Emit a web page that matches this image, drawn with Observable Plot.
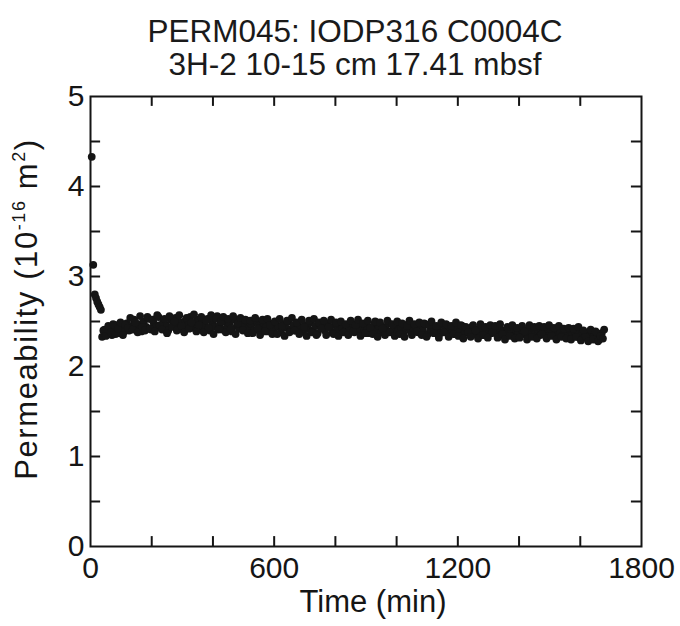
<!DOCTYPE html>
<html>
<head>
<meta charset="utf-8">
<script src="https://cdn.jsdelivr.net/npm/d3@7"></script>
<script src="https://cdn.jsdelivr.net/npm/@observablehq/plot@0.6"></script>
<style>
  body { margin: 0; background: #fff; font-family: "Liberation Sans", Arial, sans-serif; }
  #wrap { position: relative; width: 680px; height: 626px; }
  #title { position: absolute; left: 0; top: 15px; width: 710px; text-align: center; font-size: 31.5px; line-height: 33px; color: #1a1a1a; }
  #chart { position: absolute; left: 0; top: 0; }
</style>
</head>
<body>
<div id="wrap">
  <div id="chart"></div>
  <div id="title">PERM045: IODP316 C0004C<br>3H-2 10-15 cm 17.41 mbsf</div>
</div>
<script>
// Early transient points (time in min, permeability in 1e-16 m^2)
const earlyTime = [4, 9, 14, 18, 22, 26, 30, 34];
const earlyPerm = [4.33, 3.13, 2.80, 2.76, 2.72, 2.69, 2.66, 2.63];

// Steady-state points, series A
const time = [
  38,46,54,62,70,78,86,94,102,110,
  118,126,134,142,150,158,166,174,182,190,
  198,206,214,222,230,238,246,254,262,270,
  278,286,294,302,310,318,326,334,342,350,
  358,366,374,382,390,398,406,414,422,430,
  438,446,454,462,470,478,486,494,502,510,
  518,526,534,542,550,558,566,574,582,590,
  598,606,614,622,630,638,646,654,662,670,
  678,686,694,702,710,718,726,734,742,750,
  758,766,774,782,790,798,806,814,822,830,
  838,846,854,862,870,878,886,894,902,910,
  918,926,934,942,950,958,966,974,982,990,
  998,1006,1014,1022,1030,1038,1046,1054,1062,1070,
  1078,1086,1094,1102,1110,1118,1126,1134,1142,1150,
  1158,1166,1174,1182,1190,1198,1206,1214,1222,1230,
  1238,1246,1254,1262,1270,1278,1286,1294,1302,1310,
  1318,1326,1334,1342,1350,1358,1366,1374,1382,1390,
  1398,1406,1414,1422,1430,1438,1446,1454,1462,1470,
  1478,1486,1494,1502,1510,1518,1526,1534,1542,1550,
  1558,1566,1574,1582,1590,1598,1606,1614,1622,1630,
  1638,1646,1654,1662,1670,1678
];
const perm = [
  2.33,2.41,2.36,2.44,2.35,2.40,2.46,2.37,2.43,2.39,
  2.48,2.40,2.45,2.52,2.42,2.47,2.39,2.50,2.44,2.53,
  2.41,2.49,2.45,2.55,2.43,2.50,2.46,2.40,2.52,2.47,
  2.54,2.44,2.49,2.41,2.51,2.46,2.55,2.43,2.48,2.52,
  2.42,2.50,2.45,2.53,2.40,2.49,2.44,2.56,2.46,2.41,
  2.50,2.44,2.48,2.39,2.52,2.45,2.42,2.49,2.46,2.51,
  2.43,2.47,2.40,2.50,2.45,2.41,2.48,2.44,2.39,2.47,
  2.42,2.49,2.44,2.38,2.47,2.43,2.50,2.41,2.46,2.40,
  2.48,2.43,2.39,2.46,2.42,2.49,2.40,2.45,2.37,2.47,
  2.43,2.40,2.48,2.44,2.38,2.46,2.41,2.47,2.43,2.39,
  2.46,2.42,2.48,2.38,2.44,2.41,2.47,2.40,2.45,2.37,
  2.43,2.47,2.40,2.45,2.38,2.44,2.41,2.48,2.39,2.43,
  2.46,2.40,2.44,2.37,2.43,2.47,2.39,2.42,2.45,2.38,
  2.44,2.40,2.47,2.36,2.42,2.45,2.39,2.43,2.37,2.46,
  2.41,2.38,2.44,2.40,2.36,2.43,2.39,2.45,2.37,2.42,
  2.39,2.44,2.36,2.41,2.38,2.43,2.35,2.40,2.44,2.37,
  2.41,2.38,2.43,2.35,2.40,2.37,2.42,2.39,2.34,2.41,
  2.38,2.42,2.36,2.40,2.34,2.39,2.43,2.37,2.41,2.35,
  2.40,2.37,2.42,2.35,2.39,2.36,2.41,2.38,2.34,2.40,
  2.37,2.41,2.35,2.39,2.33,2.38,2.36,2.32,2.37,2.34,
  2.31,2.36,2.33,2.30,2.37,2.41
];

// Steady-state points, series B (interleaved readings)
const time2 = [
  42,50,58,66,74,82,90,98,106,114,
  122,130,138,146,154,162,170,178,186,194,
  202,210,218,226,234,242,250,258,266,274,
  282,290,298,306,314,322,330,338,346,354,
  362,370,378,386,394,402,410,418,426,434,
  442,450,458,466,474,482,490,498,506,514,
  522,530,538,546,554,562,570,578,586,594,
  602,610,618,626,634,642,650,658,666,674,
  682,690,698,706,714,722,730,738,746,754,
  762,770,778,786,794,802,810,818,826,834,
  842,850,858,866,874,882,890,898,906,914,
  922,930,938,946,954,962,970,978,986,994,
  1002,1010,1018,1026,1034,1042,1050,1058,1066,1074,
  1082,1090,1098,1106,1114,1122,1130,1138,1146,1154,
  1162,1170,1178,1186,1194,1202,1210,1218,1226,1234,
  1242,1250,1258,1266,1274,1282,1290,1298,1306,1314,
  1322,1330,1338,1346,1354,1362,1370,1378,1386,1394,
  1402,1410,1418,1426,1434,1442,1450,1458,1466,1474,
  1482,1490,1498,1506,1514,1522,1530,1538,1546,1554,
  1562,1570,1578,1586,1594,1602,1610,1618,1626,1634,
  1642,1650,1658,1666,1674
];
const perm2 = [
  2.40,2.34,2.45,2.38,2.47,2.36,2.42,2.49,2.35,2.46,
  2.43,2.54,2.41,2.49,2.38,2.56,2.44,2.40,2.55,2.42,
  2.52,2.39,2.57,2.46,2.41,2.53,2.37,2.56,2.44,2.50,
  2.40,2.57,2.45,2.38,2.54,2.42,2.49,2.58,2.39,2.46,
  2.55,2.38,2.51,2.43,2.57,2.36,2.53,2.41,2.50,2.55,
  2.38,2.53,2.42,2.56,2.36,2.48,2.54,2.40,2.52,2.37,
  2.51,2.37,2.54,2.42,2.35,2.52,2.39,2.53,2.46,2.36,
  2.50,2.36,2.53,2.45,2.34,2.51,2.38,2.54,2.40,2.49,
  2.36,2.52,2.44,2.34,2.51,2.38,2.53,2.35,2.49,2.42,
  2.51,2.35,2.44,2.52,2.36,2.49,2.34,2.50,2.38,2.47,
  2.35,2.51,2.39,2.46,2.52,2.34,2.48,2.37,2.51,2.43,
  2.36,2.50,2.33,2.49,2.42,2.35,2.51,2.38,2.47,2.34,
  2.50,2.36,2.48,2.33,2.45,2.51,2.35,2.47,2.39,2.49,
  2.35,2.48,2.33,2.46,2.50,2.37,2.45,2.32,2.49,2.38,
  2.47,2.33,2.45,2.36,2.49,2.34,2.46,2.31,2.44,2.38,
  2.33,2.46,2.40,2.31,2.47,2.35,2.44,2.32,2.46,2.38,
  2.45,2.32,2.47,2.36,2.30,2.44,2.34,2.46,2.31,2.43,
  2.32,2.45,2.39,2.30,2.46,2.33,2.44,2.31,2.45,2.36,
  2.44,2.31,2.46,2.34,2.43,2.30,2.45,2.33,2.42,2.31,
  2.43,2.30,2.42,2.33,2.44,2.29,2.40,2.33,2.28,2.41,
  2.30,2.39,2.28,2.34,2.31
];

const xLabelTicks = [0, 600, 1200, 1800];
const xTickMarks = [200, 400, 600, 800, 1000, 1200, 1400, 1600];
const yLabelTicks = [0, 1, 2, 3, 4, 5];
const yTickMarks = [0.5, 1, 1.5, 2, 2.5, 3, 3.5, 4, 4.5];

const data = earlyTime.map((t, i) => ({t, k: earlyPerm[i]}))
  .concat(time.map((t, i) => ({t, k: perm[i]})))
  .concat(time2.map((t, i) => ({t, k: perm2[i]})));

const ink = "#151515";
const xTickLen = 0.11;   // in permeability units (~10px)
const yTickLen = 33;     // in minutes (~10px)
const font = "'Liberation Sans', Arial, sans-serif";

const plot = Plot.plot({
  width: 680,
  height: 626,
  marginTop: 96,
  marginBottom: 80,
  marginLeft: 90,
  marginRight: 39,
  style: {fontFamily: font, fontSize: "30px", color: ink, background: "white"},
  x: {domain: [0, 1800]},
  y: {domain: [0, 5]},
  marks: [
    Plot.dot(data, {x: "t", y: "k", r: 3.9, fill: ink, stroke: "none"}),
    Plot.ruleX(xTickMarks, {y1: 0, y2: xTickLen, stroke: ink, strokeWidth: 2}),
    Plot.ruleX(xTickMarks, {y1: 5, y2: 5 - xTickLen, stroke: ink, strokeWidth: 2}),
    Plot.ruleY(yTickMarks, {x1: 0, x2: yTickLen, stroke: ink, strokeWidth: 2}),
    Plot.ruleY(yTickMarks, {x1: 1800, x2: 1800 - yTickLen, stroke: ink, strokeWidth: 2}),
    Plot.frame({stroke: ink, strokeWidth: 2}),
    Plot.axisX({ticks: xLabelTicks, tickSize: 0, tickPadding: 10, fontSize: 30, label: null, tickFormat: d => String(d)}),
    Plot.axisY({ticks: yLabelTicks, tickSize: 0, tickPadding: 6, fontSize: 30, label: null, tickFormat: d => String(d)})
  ]
});
document.getElementById("chart").appendChild(plot);

const svg = d3.select(plot);

// X axis label
svg.append("text")
  .attr("x", 373).attr("y", 612)
  .attr("text-anchor", "middle")
  .attr("fill", ink)
  .style("font-family", font)
  .style("font-size", "31px")
  .text("Time (min)");

// Y axis label with superscripts
const lab = svg.append("text")
  .attr("transform", "translate(37,309) rotate(-90)")
  .attr("text-anchor", "middle")
  .attr("fill", ink)
  .style("font-family", font)
  .style("font-size", "31px")
  .style("letter-spacing", "1.6px");
lab.append("tspan").text("Permeability (10");
lab.append("tspan").attr("dy", -12).style("font-size", "18px").text("-16");
lab.append("tspan").attr("dy", 12).text(" m");
lab.append("tspan").attr("dy", -12).style("font-size", "18px").text("2");
lab.append("tspan").attr("dy", 12).text(")");
</script>
</body>
</html>
